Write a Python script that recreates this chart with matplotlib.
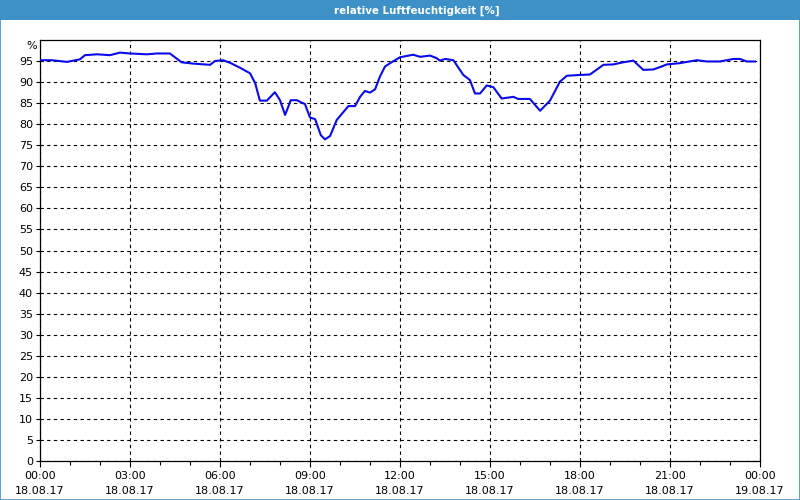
import matplotlib
matplotlib.use("Agg")
import matplotlib.pyplot as plt
from matplotlib.patches import Rectangle
from matplotlib.ticker import MultipleLocator


TITLE = "relative Luftfeuchtigkeit [%]"

# hours since 18.08.17 00:00
HOURS = [
    0.0, 0.4, 0.9, 1.33, 1.5, 1.9, 2.33, 2.67, 3.0, 3.56, 3.9, 4.33, 4.72,
    5.1, 5.67, 5.83, 6.1, 6.33, 6.67, 7.0, 7.17, 7.33, 7.56, 7.83, 8.0,
    8.17, 8.36, 8.56, 8.67, 8.83, 9.0, 9.17, 9.36, 9.5, 9.67, 9.89, 10.28,
    10.5, 10.67, 10.83, 11.0, 11.17, 11.33, 11.5, 11.67, 12.0, 12.44, 12.67,
    13.0, 13.22, 13.33, 13.5, 13.78, 14.11, 14.33, 14.5, 14.67, 14.89, 15.11,
    15.39, 15.78, 15.94, 16.33, 16.67, 17.0, 17.33, 17.56, 18.0, 18.33,
    18.78, 19.11, 19.44, 19.78, 20.11, 20.44, 20.72, 20.89, 21.33, 21.89,
    22.22, 22.67, 23.11, 23.33, 23.56, 23.83,
]
HUMIDITY = [
    95.2, 95.2, 94.8, 95.4, 96.4, 96.6, 96.4, 97.0, 96.8, 96.6, 96.8, 96.8,
    94.7, 94.4, 94.1, 95.0, 95.2, 94.6, 93.4, 92.1, 89.8, 85.6, 85.6, 87.6,
    85.7, 82.2, 85.7, 85.7, 85.3, 84.8, 81.6, 81.2, 77.4, 76.4, 77.2, 81.0,
    84.3, 84.3, 86.5, 87.9, 87.5, 88.3, 91.3, 93.7, 94.5, 95.9, 96.5, 96.0,
    96.3, 95.7, 95.1, 95.5, 95.2, 91.7, 90.5, 87.3, 87.3, 89.2, 88.8, 86.1,
    86.5, 86.0, 86.0, 83.2, 85.6, 90.1, 91.5, 91.7, 91.8, 94.1, 94.2, 94.7,
    95.1, 92.9, 93.0, 93.7, 94.2, 94.5, 95.2, 94.9, 94.9, 95.5, 95.5, 94.9,
    94.9,
]

X_TICKS = [0, 3, 6, 9, 12, 15, 18, 21, 24]
X_TICK_LABELS = [
    "00:00\n18.08.17", "03:00\n18.08.17", "06:00\n18.08.17",
    "09:00\n18.08.17", "12:00\n18.08.17", "15:00\n18.08.17",
    "18:00\n18.08.17", "21:00\n18.08.17", "00:00\n19.08.17",
]
Y_TICKS = list(range(0, 100, 5))

FRAME_BLUE = "#3d91c6"


def main():
    plt.rcParams["font.family"] = ["DejaVu Sans"]
    plt.rcParams["font.size"] = 8

    fig = plt.figure(figsize=(8, 5), dpi=100)

    # title bar and window border
    fig.patches.append(Rectangle((0, 0.96), 1, 0.04, transform=fig.transFigure,
                                 facecolor=FRAME_BLUE, edgecolor="none", zorder=0))
    fig.patches.append(Rectangle((0.0006, 0.001), 0.9988, 0.998, transform=fig.transFigure,
                                 facecolor="none", edgecolor=FRAME_BLUE, linewidth=1.2, zorder=1))
    fig.text(0.521, 0.978, TITLE, ha="center", va="center", color="white",
             fontsize=7.4, fontweight="bold")

    ax = fig.add_axes([0.05, 0.078, 0.90, 0.842])
    ax.plot(HOURS, HUMIDITY, color="#0a0aea", linewidth=1.5, zorder=3)

    ax.set_xlim(0, 24)
    ax.set_ylim(0, 100)

    ax.set_xticks(X_TICKS)
    ax.set_xticklabels(X_TICK_LABELS, linespacing=1.6)
    ax.xaxis.set_minor_locator(MultipleLocator(1))
    ax.set_yticks(Y_TICKS)

    ax.tick_params(axis="both", which="both", direction="out", color="black",
                   width=0.8, labelcolor="black")
    ax.tick_params(axis="x", which="major", length=4, pad=3)
    ax.tick_params(axis="x", which="minor", length=3)
    ax.tick_params(axis="y", length=3, pad=2)

    ax.grid(True, which="major", color="black", linestyle=(0, (3, 3)), linewidth=0.8)
    for spine in ax.spines.values():
        spine.set_color("black")
        spine.set_linewidth(0.9)

    ax.text(-0.1, 98.6, "%", ha="right", va="center", fontsize=8,
            transform=ax.transData, clip_on=False)

    fig.savefig("out.png", dpi=100)
    plt.close(fig)


if __name__ == "__main__":
    main()
